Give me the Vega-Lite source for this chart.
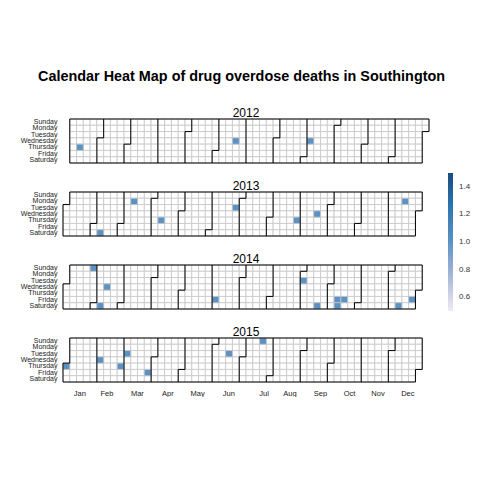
{
"$schema":"https://vega.github.io/schema/vega-lite/v6.json",
"padding":{"left":20,"top":68,"right":0,"bottom":0},
"title":{"text":"Calendar Heat Map of drug overdose deaths in Southington","fontSize":14.4,"fontWeight":"bold","color":"#000000","anchor":"middle","offset":23,"dx":-4},
"datasets":{
"c12":[
{"w":1,"d":0},{"w":1,"d":1},{"w":1,"d":2},{"w":1,"d":3},{"w":1,"d":4},{"w":1,"d":5},{"w":1,"d":6},
{"w":2,"d":0},{"w":2,"d":1},{"w":2,"d":2},{"w":2,"d":3},{"w":2,"d":4},{"w":2,"d":5},{"w":2,"d":6},
{"w":3,"d":0},{"w":3,"d":1},{"w":3,"d":2},{"w":3,"d":3},{"w":3,"d":4},{"w":3,"d":5},{"w":3,"d":6},
{"w":4,"d":0},{"w":4,"d":1},{"w":4,"d":2},{"w":4,"d":3},{"w":4,"d":4},{"w":4,"d":5},{"w":4,"d":6},
{"w":5,"d":0},{"w":5,"d":1},{"w":5,"d":2},{"w":5,"d":3},{"w":5,"d":4},{"w":5,"d":5},{"w":5,"d":6},
{"w":6,"d":0},{"w":6,"d":1},{"w":6,"d":2},{"w":6,"d":3},{"w":6,"d":4},{"w":6,"d":5},{"w":6,"d":6},
{"w":7,"d":0},{"w":7,"d":1},{"w":7,"d":2},{"w":7,"d":3},{"w":7,"d":4},{"w":7,"d":5},{"w":7,"d":6},
{"w":8,"d":0},{"w":8,"d":1},{"w":8,"d":2},{"w":8,"d":3},{"w":8,"d":4},{"w":8,"d":5},{"w":8,"d":6},
{"w":9,"d":0},{"w":9,"d":1},{"w":9,"d":2},{"w":9,"d":3},{"w":9,"d":4},{"w":9,"d":5},{"w":9,"d":6},
{"w":10,"d":0},{"w":10,"d":1},{"w":10,"d":2},{"w":10,"d":3},{"w":10,"d":4},{"w":10,"d":5},{"w":10,"d":6},
{"w":11,"d":0},{"w":11,"d":1},{"w":11,"d":2},{"w":11,"d":3},{"w":11,"d":4},{"w":11,"d":5},{"w":11,"d":6},
{"w":12,"d":0},{"w":12,"d":1},{"w":12,"d":2},{"w":12,"d":3},{"w":12,"d":4},{"w":12,"d":5},{"w":12,"d":6},
{"w":13,"d":0},{"w":13,"d":1},{"w":13,"d":2},{"w":13,"d":3},{"w":13,"d":4},{"w":13,"d":5},{"w":13,"d":6},
{"w":14,"d":0},{"w":14,"d":1},{"w":14,"d":2},{"w":14,"d":3},{"w":14,"d":4},{"w":14,"d":5},{"w":14,"d":6},
{"w":15,"d":0},{"w":15,"d":1},{"w":15,"d":2},{"w":15,"d":3},{"w":15,"d":4},{"w":15,"d":5},{"w":15,"d":6},
{"w":16,"d":0},{"w":16,"d":1},{"w":16,"d":2},{"w":16,"d":3},{"w":16,"d":4},{"w":16,"d":5},{"w":16,"d":6},
{"w":17,"d":0},{"w":17,"d":1},{"w":17,"d":2},{"w":17,"d":3},{"w":17,"d":4},{"w":17,"d":5},{"w":17,"d":6},
{"w":18,"d":0},{"w":18,"d":1},{"w":18,"d":2},{"w":18,"d":3},{"w":18,"d":4},{"w":18,"d":5},{"w":18,"d":6},
{"w":19,"d":0},{"w":19,"d":1},{"w":19,"d":2},{"w":19,"d":3},{"w":19,"d":4},{"w":19,"d":5},{"w":19,"d":6},
{"w":20,"d":0},{"w":20,"d":1},{"w":20,"d":2},{"w":20,"d":3},{"w":20,"d":4},{"w":20,"d":5},{"w":20,"d":6},
{"w":21,"d":0},{"w":21,"d":1},{"w":21,"d":2},{"w":21,"d":3},{"w":21,"d":4},{"w":21,"d":5},{"w":21,"d":6},
{"w":22,"d":0},{"w":22,"d":1},{"w":22,"d":2},{"w":22,"d":3},{"w":22,"d":4},{"w":22,"d":5},{"w":22,"d":6},
{"w":23,"d":0},{"w":23,"d":1},{"w":23,"d":2},{"w":23,"d":3},{"w":23,"d":4},{"w":23,"d":5},{"w":23,"d":6},
{"w":24,"d":0},{"w":24,"d":1},{"w":24,"d":2},{"w":24,"d":3},{"w":24,"d":4},{"w":24,"d":5},{"w":24,"d":6},
{"w":25,"d":0},{"w":25,"d":1},{"w":25,"d":2},{"w":25,"d":3},{"w":25,"d":4},{"w":25,"d":5},{"w":25,"d":6},
{"w":26,"d":0},{"w":26,"d":1},{"w":26,"d":2},{"w":26,"d":3},{"w":26,"d":4},{"w":26,"d":5},{"w":26,"d":6},
{"w":27,"d":0},{"w":27,"d":1},{"w":27,"d":2},{"w":27,"d":3},{"w":27,"d":4},{"w":27,"d":5},{"w":27,"d":6},
{"w":28,"d":0},{"w":28,"d":1},{"w":28,"d":2},{"w":28,"d":3},{"w":28,"d":4},{"w":28,"d":5},{"w":28,"d":6},
{"w":29,"d":0},{"w":29,"d":1},{"w":29,"d":2},{"w":29,"d":3},{"w":29,"d":4},{"w":29,"d":5},{"w":29,"d":6},
{"w":30,"d":0},{"w":30,"d":1},{"w":30,"d":2},{"w":30,"d":3},{"w":30,"d":4},{"w":30,"d":5},{"w":30,"d":6},
{"w":31,"d":0},{"w":31,"d":1},{"w":31,"d":2},{"w":31,"d":3},{"w":31,"d":4},{"w":31,"d":5},{"w":31,"d":6},
{"w":32,"d":0},{"w":32,"d":1},{"w":32,"d":2},{"w":32,"d":3},{"w":32,"d":4},{"w":32,"d":5},{"w":32,"d":6},
{"w":33,"d":0},{"w":33,"d":1},{"w":33,"d":2},{"w":33,"d":3},{"w":33,"d":4},{"w":33,"d":5},{"w":33,"d":6},
{"w":34,"d":0},{"w":34,"d":1},{"w":34,"d":2},{"w":34,"d":3},{"w":34,"d":4},{"w":34,"d":5},{"w":34,"d":6},
{"w":35,"d":0},{"w":35,"d":1},{"w":35,"d":2},{"w":35,"d":3},{"w":35,"d":4},{"w":35,"d":5},{"w":35,"d":6},
{"w":36,"d":0},{"w":36,"d":1},{"w":36,"d":2},{"w":36,"d":3},{"w":36,"d":4},{"w":36,"d":5},{"w":36,"d":6},
{"w":37,"d":0},{"w":37,"d":1},{"w":37,"d":2},{"w":37,"d":3},{"w":37,"d":4},{"w":37,"d":5},{"w":37,"d":6},
{"w":38,"d":0},{"w":38,"d":1},{"w":38,"d":2},{"w":38,"d":3},{"w":38,"d":4},{"w":38,"d":5},{"w":38,"d":6},
{"w":39,"d":0},{"w":39,"d":1},{"w":39,"d":2},{"w":39,"d":3},{"w":39,"d":4},{"w":39,"d":5},{"w":39,"d":6},
{"w":40,"d":0},{"w":40,"d":1},{"w":40,"d":2},{"w":40,"d":3},{"w":40,"d":4},{"w":40,"d":5},{"w":40,"d":6},
{"w":41,"d":0},{"w":41,"d":1},{"w":41,"d":2},{"w":41,"d":3},{"w":41,"d":4},{"w":41,"d":5},{"w":41,"d":6},
{"w":42,"d":0},{"w":42,"d":1},{"w":42,"d":2},{"w":42,"d":3},{"w":42,"d":4},{"w":42,"d":5},{"w":42,"d":6},
{"w":43,"d":0},{"w":43,"d":1},{"w":43,"d":2},{"w":43,"d":3},{"w":43,"d":4},{"w":43,"d":5},{"w":43,"d":6},
{"w":44,"d":0},{"w":44,"d":1},{"w":44,"d":2},{"w":44,"d":3},{"w":44,"d":4},{"w":44,"d":5},{"w":44,"d":6},
{"w":45,"d":0},{"w":45,"d":1},{"w":45,"d":2},{"w":45,"d":3},{"w":45,"d":4},{"w":45,"d":5},{"w":45,"d":6},
{"w":46,"d":0},{"w":46,"d":1},{"w":46,"d":2},{"w":46,"d":3},{"w":46,"d":4},{"w":46,"d":5},{"w":46,"d":6},
{"w":47,"d":0},{"w":47,"d":1},{"w":47,"d":2},{"w":47,"d":3},{"w":47,"d":4},{"w":47,"d":5},{"w":47,"d":6},
{"w":48,"d":0},{"w":48,"d":1},{"w":48,"d":2},{"w":48,"d":3},{"w":48,"d":4},{"w":48,"d":5},{"w":48,"d":6},
{"w":49,"d":0},{"w":49,"d":1},{"w":49,"d":2},{"w":49,"d":3},{"w":49,"d":4},{"w":49,"d":5},{"w":49,"d":6},
{"w":50,"d":0},{"w":50,"d":1},{"w":50,"d":2},{"w":50,"d":3},{"w":50,"d":4},{"w":50,"d":5},{"w":50,"d":6},
{"w":51,"d":0},{"w":51,"d":1},{"w":51,"d":2},{"w":51,"d":3},{"w":51,"d":4},{"w":51,"d":5},{"w":51,"d":6},
{"w":52,"d":0},{"w":52,"d":1},{"w":52,"d":2},{"w":52,"d":3},{"w":52,"d":4},{"w":52,"d":5},{"w":52,"d":6},
{"w":53,"d":0},{"w":53,"d":1}
],
"c13":[
{"w":0,"d":2},{"w":0,"d":3},{"w":0,"d":4},{"w":0,"d":5},{"w":0,"d":6},
{"w":1,"d":0},{"w":1,"d":1},{"w":1,"d":2},{"w":1,"d":3},{"w":1,"d":4},{"w":1,"d":5},{"w":1,"d":6},
{"w":2,"d":0},{"w":2,"d":1},{"w":2,"d":2},{"w":2,"d":3},{"w":2,"d":4},{"w":2,"d":5},{"w":2,"d":6},
{"w":3,"d":0},{"w":3,"d":1},{"w":3,"d":2},{"w":3,"d":3},{"w":3,"d":4},{"w":3,"d":5},{"w":3,"d":6},
{"w":4,"d":0},{"w":4,"d":1},{"w":4,"d":2},{"w":4,"d":3},{"w":4,"d":4},{"w":4,"d":5},{"w":4,"d":6},
{"w":5,"d":0},{"w":5,"d":1},{"w":5,"d":2},{"w":5,"d":3},{"w":5,"d":4},{"w":5,"d":5},{"w":5,"d":6},
{"w":6,"d":0},{"w":6,"d":1},{"w":6,"d":2},{"w":6,"d":3},{"w":6,"d":4},{"w":6,"d":5},{"w":6,"d":6},
{"w":7,"d":0},{"w":7,"d":1},{"w":7,"d":2},{"w":7,"d":3},{"w":7,"d":4},{"w":7,"d":5},{"w":7,"d":6},
{"w":8,"d":0},{"w":8,"d":1},{"w":8,"d":2},{"w":8,"d":3},{"w":8,"d":4},{"w":8,"d":5},{"w":8,"d":6},
{"w":9,"d":0},{"w":9,"d":1},{"w":9,"d":2},{"w":9,"d":3},{"w":9,"d":4},{"w":9,"d":5},{"w":9,"d":6},
{"w":10,"d":0},{"w":10,"d":1},{"w":10,"d":2},{"w":10,"d":3},{"w":10,"d":4},{"w":10,"d":5},{"w":10,"d":6},
{"w":11,"d":0},{"w":11,"d":1},{"w":11,"d":2},{"w":11,"d":3},{"w":11,"d":4},{"w":11,"d":5},{"w":11,"d":6},
{"w":12,"d":0},{"w":12,"d":1},{"w":12,"d":2},{"w":12,"d":3},{"w":12,"d":4},{"w":12,"d":5},{"w":12,"d":6},
{"w":13,"d":0},{"w":13,"d":1},{"w":13,"d":2},{"w":13,"d":3},{"w":13,"d":4},{"w":13,"d":5},{"w":13,"d":6},
{"w":14,"d":0},{"w":14,"d":1},{"w":14,"d":2},{"w":14,"d":3},{"w":14,"d":4},{"w":14,"d":5},{"w":14,"d":6},
{"w":15,"d":0},{"w":15,"d":1},{"w":15,"d":2},{"w":15,"d":3},{"w":15,"d":4},{"w":15,"d":5},{"w":15,"d":6},
{"w":16,"d":0},{"w":16,"d":1},{"w":16,"d":2},{"w":16,"d":3},{"w":16,"d":4},{"w":16,"d":5},{"w":16,"d":6},
{"w":17,"d":0},{"w":17,"d":1},{"w":17,"d":2},{"w":17,"d":3},{"w":17,"d":4},{"w":17,"d":5},{"w":17,"d":6},
{"w":18,"d":0},{"w":18,"d":1},{"w":18,"d":2},{"w":18,"d":3},{"w":18,"d":4},{"w":18,"d":5},{"w":18,"d":6},
{"w":19,"d":0},{"w":19,"d":1},{"w":19,"d":2},{"w":19,"d":3},{"w":19,"d":4},{"w":19,"d":5},{"w":19,"d":6},
{"w":20,"d":0},{"w":20,"d":1},{"w":20,"d":2},{"w":20,"d":3},{"w":20,"d":4},{"w":20,"d":5},{"w":20,"d":6},
{"w":21,"d":0},{"w":21,"d":1},{"w":21,"d":2},{"w":21,"d":3},{"w":21,"d":4},{"w":21,"d":5},{"w":21,"d":6},
{"w":22,"d":0},{"w":22,"d":1},{"w":22,"d":2},{"w":22,"d":3},{"w":22,"d":4},{"w":22,"d":5},{"w":22,"d":6},
{"w":23,"d":0},{"w":23,"d":1},{"w":23,"d":2},{"w":23,"d":3},{"w":23,"d":4},{"w":23,"d":5},{"w":23,"d":6},
{"w":24,"d":0},{"w":24,"d":1},{"w":24,"d":2},{"w":24,"d":3},{"w":24,"d":4},{"w":24,"d":5},{"w":24,"d":6},
{"w":25,"d":0},{"w":25,"d":1},{"w":25,"d":2},{"w":25,"d":3},{"w":25,"d":4},{"w":25,"d":5},{"w":25,"d":6},
{"w":26,"d":0},{"w":26,"d":1},{"w":26,"d":2},{"w":26,"d":3},{"w":26,"d":4},{"w":26,"d":5},{"w":26,"d":6},
{"w":27,"d":0},{"w":27,"d":1},{"w":27,"d":2},{"w":27,"d":3},{"w":27,"d":4},{"w":27,"d":5},{"w":27,"d":6},
{"w":28,"d":0},{"w":28,"d":1},{"w":28,"d":2},{"w":28,"d":3},{"w":28,"d":4},{"w":28,"d":5},{"w":28,"d":6},
{"w":29,"d":0},{"w":29,"d":1},{"w":29,"d":2},{"w":29,"d":3},{"w":29,"d":4},{"w":29,"d":5},{"w":29,"d":6},
{"w":30,"d":0},{"w":30,"d":1},{"w":30,"d":2},{"w":30,"d":3},{"w":30,"d":4},{"w":30,"d":5},{"w":30,"d":6},
{"w":31,"d":0},{"w":31,"d":1},{"w":31,"d":2},{"w":31,"d":3},{"w":31,"d":4},{"w":31,"d":5},{"w":31,"d":6},
{"w":32,"d":0},{"w":32,"d":1},{"w":32,"d":2},{"w":32,"d":3},{"w":32,"d":4},{"w":32,"d":5},{"w":32,"d":6},
{"w":33,"d":0},{"w":33,"d":1},{"w":33,"d":2},{"w":33,"d":3},{"w":33,"d":4},{"w":33,"d":5},{"w":33,"d":6},
{"w":34,"d":0},{"w":34,"d":1},{"w":34,"d":2},{"w":34,"d":3},{"w":34,"d":4},{"w":34,"d":5},{"w":34,"d":6},
{"w":35,"d":0},{"w":35,"d":1},{"w":35,"d":2},{"w":35,"d":3},{"w":35,"d":4},{"w":35,"d":5},{"w":35,"d":6},
{"w":36,"d":0},{"w":36,"d":1},{"w":36,"d":2},{"w":36,"d":3},{"w":36,"d":4},{"w":36,"d":5},{"w":36,"d":6},
{"w":37,"d":0},{"w":37,"d":1},{"w":37,"d":2},{"w":37,"d":3},{"w":37,"d":4},{"w":37,"d":5},{"w":37,"d":6},
{"w":38,"d":0},{"w":38,"d":1},{"w":38,"d":2},{"w":38,"d":3},{"w":38,"d":4},{"w":38,"d":5},{"w":38,"d":6},
{"w":39,"d":0},{"w":39,"d":1},{"w":39,"d":2},{"w":39,"d":3},{"w":39,"d":4},{"w":39,"d":5},{"w":39,"d":6},
{"w":40,"d":0},{"w":40,"d":1},{"w":40,"d":2},{"w":40,"d":3},{"w":40,"d":4},{"w":40,"d":5},{"w":40,"d":6},
{"w":41,"d":0},{"w":41,"d":1},{"w":41,"d":2},{"w":41,"d":3},{"w":41,"d":4},{"w":41,"d":5},{"w":41,"d":6},
{"w":42,"d":0},{"w":42,"d":1},{"w":42,"d":2},{"w":42,"d":3},{"w":42,"d":4},{"w":42,"d":5},{"w":42,"d":6},
{"w":43,"d":0},{"w":43,"d":1},{"w":43,"d":2},{"w":43,"d":3},{"w":43,"d":4},{"w":43,"d":5},{"w":43,"d":6},
{"w":44,"d":0},{"w":44,"d":1},{"w":44,"d":2},{"w":44,"d":3},{"w":44,"d":4},{"w":44,"d":5},{"w":44,"d":6},
{"w":45,"d":0},{"w":45,"d":1},{"w":45,"d":2},{"w":45,"d":3},{"w":45,"d":4},{"w":45,"d":5},{"w":45,"d":6},
{"w":46,"d":0},{"w":46,"d":1},{"w":46,"d":2},{"w":46,"d":3},{"w":46,"d":4},{"w":46,"d":5},{"w":46,"d":6},
{"w":47,"d":0},{"w":47,"d":1},{"w":47,"d":2},{"w":47,"d":3},{"w":47,"d":4},{"w":47,"d":5},{"w":47,"d":6},
{"w":48,"d":0},{"w":48,"d":1},{"w":48,"d":2},{"w":48,"d":3},{"w":48,"d":4},{"w":48,"d":5},{"w":48,"d":6},
{"w":49,"d":0},{"w":49,"d":1},{"w":49,"d":2},{"w":49,"d":3},{"w":49,"d":4},{"w":49,"d":5},{"w":49,"d":6},
{"w":50,"d":0},{"w":50,"d":1},{"w":50,"d":2},{"w":50,"d":3},{"w":50,"d":4},{"w":50,"d":5},{"w":50,"d":6},
{"w":51,"d":0},{"w":51,"d":1},{"w":51,"d":2},{"w":51,"d":3},{"w":51,"d":4},{"w":51,"d":5},{"w":51,"d":6},
{"w":52,"d":0},{"w":52,"d":1},{"w":52,"d":2}
],
"c14":[
{"w":0,"d":3},{"w":0,"d":4},{"w":0,"d":5},{"w":0,"d":6},
{"w":1,"d":0},{"w":1,"d":1},{"w":1,"d":2},{"w":1,"d":3},{"w":1,"d":4},{"w":1,"d":5},{"w":1,"d":6},
{"w":2,"d":0},{"w":2,"d":1},{"w":2,"d":2},{"w":2,"d":3},{"w":2,"d":4},{"w":2,"d":5},{"w":2,"d":6},
{"w":3,"d":0},{"w":3,"d":1},{"w":3,"d":2},{"w":3,"d":3},{"w":3,"d":4},{"w":3,"d":5},{"w":3,"d":6},
{"w":4,"d":0},{"w":4,"d":1},{"w":4,"d":2},{"w":4,"d":3},{"w":4,"d":4},{"w":4,"d":5},{"w":4,"d":6},
{"w":5,"d":0},{"w":5,"d":1},{"w":5,"d":2},{"w":5,"d":3},{"w":5,"d":4},{"w":5,"d":5},{"w":5,"d":6},
{"w":6,"d":0},{"w":6,"d":1},{"w":6,"d":2},{"w":6,"d":3},{"w":6,"d":4},{"w":6,"d":5},{"w":6,"d":6},
{"w":7,"d":0},{"w":7,"d":1},{"w":7,"d":2},{"w":7,"d":3},{"w":7,"d":4},{"w":7,"d":5},{"w":7,"d":6},
{"w":8,"d":0},{"w":8,"d":1},{"w":8,"d":2},{"w":8,"d":3},{"w":8,"d":4},{"w":8,"d":5},{"w":8,"d":6},
{"w":9,"d":0},{"w":9,"d":1},{"w":9,"d":2},{"w":9,"d":3},{"w":9,"d":4},{"w":9,"d":5},{"w":9,"d":6},
{"w":10,"d":0},{"w":10,"d":1},{"w":10,"d":2},{"w":10,"d":3},{"w":10,"d":4},{"w":10,"d":5},{"w":10,"d":6},
{"w":11,"d":0},{"w":11,"d":1},{"w":11,"d":2},{"w":11,"d":3},{"w":11,"d":4},{"w":11,"d":5},{"w":11,"d":6},
{"w":12,"d":0},{"w":12,"d":1},{"w":12,"d":2},{"w":12,"d":3},{"w":12,"d":4},{"w":12,"d":5},{"w":12,"d":6},
{"w":13,"d":0},{"w":13,"d":1},{"w":13,"d":2},{"w":13,"d":3},{"w":13,"d":4},{"w":13,"d":5},{"w":13,"d":6},
{"w":14,"d":0},{"w":14,"d":1},{"w":14,"d":2},{"w":14,"d":3},{"w":14,"d":4},{"w":14,"d":5},{"w":14,"d":6},
{"w":15,"d":0},{"w":15,"d":1},{"w":15,"d":2},{"w":15,"d":3},{"w":15,"d":4},{"w":15,"d":5},{"w":15,"d":6},
{"w":16,"d":0},{"w":16,"d":1},{"w":16,"d":2},{"w":16,"d":3},{"w":16,"d":4},{"w":16,"d":5},{"w":16,"d":6},
{"w":17,"d":0},{"w":17,"d":1},{"w":17,"d":2},{"w":17,"d":3},{"w":17,"d":4},{"w":17,"d":5},{"w":17,"d":6},
{"w":18,"d":0},{"w":18,"d":1},{"w":18,"d":2},{"w":18,"d":3},{"w":18,"d":4},{"w":18,"d":5},{"w":18,"d":6},
{"w":19,"d":0},{"w":19,"d":1},{"w":19,"d":2},{"w":19,"d":3},{"w":19,"d":4},{"w":19,"d":5},{"w":19,"d":6},
{"w":20,"d":0},{"w":20,"d":1},{"w":20,"d":2},{"w":20,"d":3},{"w":20,"d":4},{"w":20,"d":5},{"w":20,"d":6},
{"w":21,"d":0},{"w":21,"d":1},{"w":21,"d":2},{"w":21,"d":3},{"w":21,"d":4},{"w":21,"d":5},{"w":21,"d":6},
{"w":22,"d":0},{"w":22,"d":1},{"w":22,"d":2},{"w":22,"d":3},{"w":22,"d":4},{"w":22,"d":5},{"w":22,"d":6},
{"w":23,"d":0},{"w":23,"d":1},{"w":23,"d":2},{"w":23,"d":3},{"w":23,"d":4},{"w":23,"d":5},{"w":23,"d":6},
{"w":24,"d":0},{"w":24,"d":1},{"w":24,"d":2},{"w":24,"d":3},{"w":24,"d":4},{"w":24,"d":5},{"w":24,"d":6},
{"w":25,"d":0},{"w":25,"d":1},{"w":25,"d":2},{"w":25,"d":3},{"w":25,"d":4},{"w":25,"d":5},{"w":25,"d":6},
{"w":26,"d":0},{"w":26,"d":1},{"w":26,"d":2},{"w":26,"d":3},{"w":26,"d":4},{"w":26,"d":5},{"w":26,"d":6},
{"w":27,"d":0},{"w":27,"d":1},{"w":27,"d":2},{"w":27,"d":3},{"w":27,"d":4},{"w":27,"d":5},{"w":27,"d":6},
{"w":28,"d":0},{"w":28,"d":1},{"w":28,"d":2},{"w":28,"d":3},{"w":28,"d":4},{"w":28,"d":5},{"w":28,"d":6},
{"w":29,"d":0},{"w":29,"d":1},{"w":29,"d":2},{"w":29,"d":3},{"w":29,"d":4},{"w":29,"d":5},{"w":29,"d":6},
{"w":30,"d":0},{"w":30,"d":1},{"w":30,"d":2},{"w":30,"d":3},{"w":30,"d":4},{"w":30,"d":5},{"w":30,"d":6},
{"w":31,"d":0},{"w":31,"d":1},{"w":31,"d":2},{"w":31,"d":3},{"w":31,"d":4},{"w":31,"d":5},{"w":31,"d":6},
{"w":32,"d":0},{"w":32,"d":1},{"w":32,"d":2},{"w":32,"d":3},{"w":32,"d":4},{"w":32,"d":5},{"w":32,"d":6},
{"w":33,"d":0},{"w":33,"d":1},{"w":33,"d":2},{"w":33,"d":3},{"w":33,"d":4},{"w":33,"d":5},{"w":33,"d":6},
{"w":34,"d":0},{"w":34,"d":1},{"w":34,"d":2},{"w":34,"d":3},{"w":34,"d":4},{"w":34,"d":5},{"w":34,"d":6},
{"w":35,"d":0},{"w":35,"d":1},{"w":35,"d":2},{"w":35,"d":3},{"w":35,"d":4},{"w":35,"d":5},{"w":35,"d":6},
{"w":36,"d":0},{"w":36,"d":1},{"w":36,"d":2},{"w":36,"d":3},{"w":36,"d":4},{"w":36,"d":5},{"w":36,"d":6},
{"w":37,"d":0},{"w":37,"d":1},{"w":37,"d":2},{"w":37,"d":3},{"w":37,"d":4},{"w":37,"d":5},{"w":37,"d":6},
{"w":38,"d":0},{"w":38,"d":1},{"w":38,"d":2},{"w":38,"d":3},{"w":38,"d":4},{"w":38,"d":5},{"w":38,"d":6},
{"w":39,"d":0},{"w":39,"d":1},{"w":39,"d":2},{"w":39,"d":3},{"w":39,"d":4},{"w":39,"d":5},{"w":39,"d":6},
{"w":40,"d":0},{"w":40,"d":1},{"w":40,"d":2},{"w":40,"d":3},{"w":40,"d":4},{"w":40,"d":5},{"w":40,"d":6},
{"w":41,"d":0},{"w":41,"d":1},{"w":41,"d":2},{"w":41,"d":3},{"w":41,"d":4},{"w":41,"d":5},{"w":41,"d":6},
{"w":42,"d":0},{"w":42,"d":1},{"w":42,"d":2},{"w":42,"d":3},{"w":42,"d":4},{"w":42,"d":5},{"w":42,"d":6},
{"w":43,"d":0},{"w":43,"d":1},{"w":43,"d":2},{"w":43,"d":3},{"w":43,"d":4},{"w":43,"d":5},{"w":43,"d":6},
{"w":44,"d":0},{"w":44,"d":1},{"w":44,"d":2},{"w":44,"d":3},{"w":44,"d":4},{"w":44,"d":5},{"w":44,"d":6},
{"w":45,"d":0},{"w":45,"d":1},{"w":45,"d":2},{"w":45,"d":3},{"w":45,"d":4},{"w":45,"d":5},{"w":45,"d":6},
{"w":46,"d":0},{"w":46,"d":1},{"w":46,"d":2},{"w":46,"d":3},{"w":46,"d":4},{"w":46,"d":5},{"w":46,"d":6},
{"w":47,"d":0},{"w":47,"d":1},{"w":47,"d":2},{"w":47,"d":3},{"w":47,"d":4},{"w":47,"d":5},{"w":47,"d":6},
{"w":48,"d":0},{"w":48,"d":1},{"w":48,"d":2},{"w":48,"d":3},{"w":48,"d":4},{"w":48,"d":5},{"w":48,"d":6},
{"w":49,"d":0},{"w":49,"d":1},{"w":49,"d":2},{"w":49,"d":3},{"w":49,"d":4},{"w":49,"d":5},{"w":49,"d":6},
{"w":50,"d":0},{"w":50,"d":1},{"w":50,"d":2},{"w":50,"d":3},{"w":50,"d":4},{"w":50,"d":5},{"w":50,"d":6},
{"w":51,"d":0},{"w":51,"d":1},{"w":51,"d":2},{"w":51,"d":3},{"w":51,"d":4},{"w":51,"d":5},{"w":51,"d":6},
{"w":52,"d":0},{"w":52,"d":1},{"w":52,"d":2},{"w":52,"d":3}
],
"c15":[
{"w":0,"d":4},{"w":0,"d":5},{"w":0,"d":6},
{"w":1,"d":0},{"w":1,"d":1},{"w":1,"d":2},{"w":1,"d":3},{"w":1,"d":4},{"w":1,"d":5},{"w":1,"d":6},
{"w":2,"d":0},{"w":2,"d":1},{"w":2,"d":2},{"w":2,"d":3},{"w":2,"d":4},{"w":2,"d":5},{"w":2,"d":6},
{"w":3,"d":0},{"w":3,"d":1},{"w":3,"d":2},{"w":3,"d":3},{"w":3,"d":4},{"w":3,"d":5},{"w":3,"d":6},
{"w":4,"d":0},{"w":4,"d":1},{"w":4,"d":2},{"w":4,"d":3},{"w":4,"d":4},{"w":4,"d":5},{"w":4,"d":6},
{"w":5,"d":0},{"w":5,"d":1},{"w":5,"d":2},{"w":5,"d":3},{"w":5,"d":4},{"w":5,"d":5},{"w":5,"d":6},
{"w":6,"d":0},{"w":6,"d":1},{"w":6,"d":2},{"w":6,"d":3},{"w":6,"d":4},{"w":6,"d":5},{"w":6,"d":6},
{"w":7,"d":0},{"w":7,"d":1},{"w":7,"d":2},{"w":7,"d":3},{"w":7,"d":4},{"w":7,"d":5},{"w":7,"d":6},
{"w":8,"d":0},{"w":8,"d":1},{"w":8,"d":2},{"w":8,"d":3},{"w":8,"d":4},{"w":8,"d":5},{"w":8,"d":6},
{"w":9,"d":0},{"w":9,"d":1},{"w":9,"d":2},{"w":9,"d":3},{"w":9,"d":4},{"w":9,"d":5},{"w":9,"d":6},
{"w":10,"d":0},{"w":10,"d":1},{"w":10,"d":2},{"w":10,"d":3},{"w":10,"d":4},{"w":10,"d":5},{"w":10,"d":6},
{"w":11,"d":0},{"w":11,"d":1},{"w":11,"d":2},{"w":11,"d":3},{"w":11,"d":4},{"w":11,"d":5},{"w":11,"d":6},
{"w":12,"d":0},{"w":12,"d":1},{"w":12,"d":2},{"w":12,"d":3},{"w":12,"d":4},{"w":12,"d":5},{"w":12,"d":6},
{"w":13,"d":0},{"w":13,"d":1},{"w":13,"d":2},{"w":13,"d":3},{"w":13,"d":4},{"w":13,"d":5},{"w":13,"d":6},
{"w":14,"d":0},{"w":14,"d":1},{"w":14,"d":2},{"w":14,"d":3},{"w":14,"d":4},{"w":14,"d":5},{"w":14,"d":6},
{"w":15,"d":0},{"w":15,"d":1},{"w":15,"d":2},{"w":15,"d":3},{"w":15,"d":4},{"w":15,"d":5},{"w":15,"d":6},
{"w":16,"d":0},{"w":16,"d":1},{"w":16,"d":2},{"w":16,"d":3},{"w":16,"d":4},{"w":16,"d":5},{"w":16,"d":6},
{"w":17,"d":0},{"w":17,"d":1},{"w":17,"d":2},{"w":17,"d":3},{"w":17,"d":4},{"w":17,"d":5},{"w":17,"d":6},
{"w":18,"d":0},{"w":18,"d":1},{"w":18,"d":2},{"w":18,"d":3},{"w":18,"d":4},{"w":18,"d":5},{"w":18,"d":6},
{"w":19,"d":0},{"w":19,"d":1},{"w":19,"d":2},{"w":19,"d":3},{"w":19,"d":4},{"w":19,"d":5},{"w":19,"d":6},
{"w":20,"d":0},{"w":20,"d":1},{"w":20,"d":2},{"w":20,"d":3},{"w":20,"d":4},{"w":20,"d":5},{"w":20,"d":6},
{"w":21,"d":0},{"w":21,"d":1},{"w":21,"d":2},{"w":21,"d":3},{"w":21,"d":4},{"w":21,"d":5},{"w":21,"d":6},
{"w":22,"d":0},{"w":22,"d":1},{"w":22,"d":2},{"w":22,"d":3},{"w":22,"d":4},{"w":22,"d":5},{"w":22,"d":6},
{"w":23,"d":0},{"w":23,"d":1},{"w":23,"d":2},{"w":23,"d":3},{"w":23,"d":4},{"w":23,"d":5},{"w":23,"d":6},
{"w":24,"d":0},{"w":24,"d":1},{"w":24,"d":2},{"w":24,"d":3},{"w":24,"d":4},{"w":24,"d":5},{"w":24,"d":6},
{"w":25,"d":0},{"w":25,"d":1},{"w":25,"d":2},{"w":25,"d":3},{"w":25,"d":4},{"w":25,"d":5},{"w":25,"d":6},
{"w":26,"d":0},{"w":26,"d":1},{"w":26,"d":2},{"w":26,"d":3},{"w":26,"d":4},{"w":26,"d":5},{"w":26,"d":6},
{"w":27,"d":0},{"w":27,"d":1},{"w":27,"d":2},{"w":27,"d":3},{"w":27,"d":4},{"w":27,"d":5},{"w":27,"d":6},
{"w":28,"d":0},{"w":28,"d":1},{"w":28,"d":2},{"w":28,"d":3},{"w":28,"d":4},{"w":28,"d":5},{"w":28,"d":6},
{"w":29,"d":0},{"w":29,"d":1},{"w":29,"d":2},{"w":29,"d":3},{"w":29,"d":4},{"w":29,"d":5},{"w":29,"d":6},
{"w":30,"d":0},{"w":30,"d":1},{"w":30,"d":2},{"w":30,"d":3},{"w":30,"d":4},{"w":30,"d":5},{"w":30,"d":6},
{"w":31,"d":0},{"w":31,"d":1},{"w":31,"d":2},{"w":31,"d":3},{"w":31,"d":4},{"w":31,"d":5},{"w":31,"d":6},
{"w":32,"d":0},{"w":32,"d":1},{"w":32,"d":2},{"w":32,"d":3},{"w":32,"d":4},{"w":32,"d":5},{"w":32,"d":6},
{"w":33,"d":0},{"w":33,"d":1},{"w":33,"d":2},{"w":33,"d":3},{"w":33,"d":4},{"w":33,"d":5},{"w":33,"d":6},
{"w":34,"d":0},{"w":34,"d":1},{"w":34,"d":2},{"w":34,"d":3},{"w":34,"d":4},{"w":34,"d":5},{"w":34,"d":6},
{"w":35,"d":0},{"w":35,"d":1},{"w":35,"d":2},{"w":35,"d":3},{"w":35,"d":4},{"w":35,"d":5},{"w":35,"d":6},
{"w":36,"d":0},{"w":36,"d":1},{"w":36,"d":2},{"w":36,"d":3},{"w":36,"d":4},{"w":36,"d":5},{"w":36,"d":6},
{"w":37,"d":0},{"w":37,"d":1},{"w":37,"d":2},{"w":37,"d":3},{"w":37,"d":4},{"w":37,"d":5},{"w":37,"d":6},
{"w":38,"d":0},{"w":38,"d":1},{"w":38,"d":2},{"w":38,"d":3},{"w":38,"d":4},{"w":38,"d":5},{"w":38,"d":6},
{"w":39,"d":0},{"w":39,"d":1},{"w":39,"d":2},{"w":39,"d":3},{"w":39,"d":4},{"w":39,"d":5},{"w":39,"d":6},
{"w":40,"d":0},{"w":40,"d":1},{"w":40,"d":2},{"w":40,"d":3},{"w":40,"d":4},{"w":40,"d":5},{"w":40,"d":6},
{"w":41,"d":0},{"w":41,"d":1},{"w":41,"d":2},{"w":41,"d":3},{"w":41,"d":4},{"w":41,"d":5},{"w":41,"d":6},
{"w":42,"d":0},{"w":42,"d":1},{"w":42,"d":2},{"w":42,"d":3},{"w":42,"d":4},{"w":42,"d":5},{"w":42,"d":6},
{"w":43,"d":0},{"w":43,"d":1},{"w":43,"d":2},{"w":43,"d":3},{"w":43,"d":4},{"w":43,"d":5},{"w":43,"d":6},
{"w":44,"d":0},{"w":44,"d":1},{"w":44,"d":2},{"w":44,"d":3},{"w":44,"d":4},{"w":44,"d":5},{"w":44,"d":6},
{"w":45,"d":0},{"w":45,"d":1},{"w":45,"d":2},{"w":45,"d":3},{"w":45,"d":4},{"w":45,"d":5},{"w":45,"d":6},
{"w":46,"d":0},{"w":46,"d":1},{"w":46,"d":2},{"w":46,"d":3},{"w":46,"d":4},{"w":46,"d":5},{"w":46,"d":6},
{"w":47,"d":0},{"w":47,"d":1},{"w":47,"d":2},{"w":47,"d":3},{"w":47,"d":4},{"w":47,"d":5},{"w":47,"d":6},
{"w":48,"d":0},{"w":48,"d":1},{"w":48,"d":2},{"w":48,"d":3},{"w":48,"d":4},{"w":48,"d":5},{"w":48,"d":6},
{"w":49,"d":0},{"w":49,"d":1},{"w":49,"d":2},{"w":49,"d":3},{"w":49,"d":4},{"w":49,"d":5},{"w":49,"d":6},
{"w":50,"d":0},{"w":50,"d":1},{"w":50,"d":2},{"w":50,"d":3},{"w":50,"d":4},{"w":50,"d":5},{"w":50,"d":6},
{"w":51,"d":0},{"w":51,"d":1},{"w":51,"d":2},{"w":51,"d":3},{"w":51,"d":4},{"w":51,"d":5},{"w":51,"d":6},
{"w":52,"d":0},{"w":52,"d":1},{"w":52,"d":2},{"w":52,"d":3},{"w":52,"d":4}
],
"d12":[{"w":2,"d":4,"n":1},{"w":25,"d":3,"n":1},{"w":36,"d":3,"n":1}],
"d13":[{"w":5,"d":6,"n":1},{"w":10,"d":1,"n":1},{"w":14,"d":4,"n":1},{"w":25,"d":2,"n":1},{"w":34,"d":4,"n":1},{"w":37,"d":3,"n":1},{"w":50,"d":1,"n":1}],
"d14":[{"w":4,"d":0,"n":1},{"w":5,"d":6,"n":1},{"w":6,"d":3,"n":1},{"w":22,"d":5,"n":1},{"w":35,"d":2,"n":1},{"w":37,"d":6,"n":1},{"w":40,"d":5,"n":1},{"w":40,"d":6,"n":1},{"w":41,"d":5,"n":1},{"w":49,"d":6,"n":1},{"w":51,"d":5,"n":1}],
"d15":[{"w":0,"d":4,"n":1},{"w":5,"d":3,"n":1},{"w":8,"d":4,"n":1},{"w":9,"d":2,"n":1},{"w":12,"d":5,"n":1},{"w":24,"d":2,"n":1},{"w":29,"d":0,"n":1}],
"b12":[
{"g":1,"o":0,"x":1,"e":0},{"g":1,"o":1,"x":1,"e":7},
{"g":2,"o":0,"x":6,"e":0},{"g":2,"o":1,"x":6,"e":3},{"g":2,"o":2,"x":5,"e":3},{"g":2,"o":3,"x":5,"e":7},
{"g":3,"o":0,"x":10,"e":0},{"g":3,"o":1,"x":10,"e":4},{"g":3,"o":2,"x":9,"e":4},{"g":3,"o":3,"x":9,"e":7},
{"g":4,"o":0,"x":14,"e":0},{"g":4,"o":1,"x":14,"e":7},
{"g":5,"o":0,"x":19,"e":0},{"g":5,"o":1,"x":19,"e":2},{"g":5,"o":2,"x":18,"e":2},{"g":5,"o":3,"x":18,"e":7},
{"g":6,"o":0,"x":23,"e":0},{"g":6,"o":1,"x":23,"e":5},{"g":6,"o":2,"x":22,"e":5},{"g":6,"o":3,"x":22,"e":7},
{"g":7,"o":0,"x":27,"e":0},{"g":7,"o":1,"x":27,"e":7},
{"g":8,"o":0,"x":32,"e":0},{"g":8,"o":1,"x":32,"e":3},{"g":8,"o":2,"x":31,"e":3},{"g":8,"o":3,"x":31,"e":7},
{"g":9,"o":0,"x":36,"e":0},{"g":9,"o":1,"x":36,"e":6},{"g":9,"o":2,"x":35,"e":6},{"g":9,"o":3,"x":35,"e":7},
{"g":10,"o":0,"x":41,"e":0},{"g":10,"o":1,"x":41,"e":1},{"g":10,"o":2,"x":40,"e":1},{"g":10,"o":3,"x":40,"e":7},
{"g":11,"o":0,"x":45,"e":0},{"g":11,"o":1,"x":45,"e":4},{"g":11,"o":2,"x":44,"e":4},{"g":11,"o":3,"x":44,"e":7},
{"g":12,"o":0,"x":49,"e":0},{"g":12,"o":1,"x":49,"e":6},{"g":12,"o":2,"x":48,"e":6},{"g":12,"o":3,"x":48,"e":7},
{"g":13,"o":0,"x":54,"e":0},{"g":13,"o":1,"x":54,"e":2},{"g":13,"o":2,"x":53,"e":2},{"g":13,"o":3,"x":53,"e":7},
{"g":14,"o":0,"x":1,"e":0},{"g":14,"o":1,"x":54,"e":0},
{"g":15,"o":0,"x":1,"e":7},{"g":15,"o":1,"x":53,"e":7}
],
"b13":[
{"g":1,"o":0,"x":1,"e":0},{"g":1,"o":1,"x":1,"e":2},{"g":1,"o":2,"x":0,"e":2},{"g":1,"o":3,"x":0,"e":7},
{"g":2,"o":0,"x":5,"e":0},{"g":2,"o":1,"x":5,"e":5},{"g":2,"o":2,"x":4,"e":5},{"g":2,"o":3,"x":4,"e":7},
{"g":3,"o":0,"x":9,"e":0},{"g":3,"o":1,"x":9,"e":5},{"g":3,"o":2,"x":8,"e":5},{"g":3,"o":3,"x":8,"e":7},
{"g":4,"o":0,"x":14,"e":0},{"g":4,"o":1,"x":14,"e":1},{"g":4,"o":2,"x":13,"e":1},{"g":4,"o":3,"x":13,"e":7},
{"g":5,"o":0,"x":18,"e":0},{"g":5,"o":1,"x":18,"e":3},{"g":5,"o":2,"x":17,"e":3},{"g":5,"o":3,"x":17,"e":7},
{"g":6,"o":0,"x":22,"e":0},{"g":6,"o":1,"x":22,"e":6},{"g":6,"o":2,"x":21,"e":6},{"g":6,"o":3,"x":21,"e":7},
{"g":7,"o":0,"x":27,"e":0},{"g":7,"o":1,"x":27,"e":1},{"g":7,"o":2,"x":26,"e":1},{"g":7,"o":3,"x":26,"e":7},
{"g":8,"o":0,"x":31,"e":0},{"g":8,"o":1,"x":31,"e":4},{"g":8,"o":2,"x":30,"e":4},{"g":8,"o":3,"x":30,"e":7},
{"g":9,"o":0,"x":35,"e":0},{"g":9,"o":1,"x":35,"e":7},
{"g":10,"o":0,"x":40,"e":0},{"g":10,"o":1,"x":40,"e":2},{"g":10,"o":2,"x":39,"e":2},{"g":10,"o":3,"x":39,"e":7},
{"g":11,"o":0,"x":44,"e":0},{"g":11,"o":1,"x":44,"e":5},{"g":11,"o":2,"x":43,"e":5},{"g":11,"o":3,"x":43,"e":7},
{"g":12,"o":0,"x":48,"e":0},{"g":12,"o":1,"x":48,"e":7},
{"g":13,"o":0,"x":53,"e":0},{"g":13,"o":1,"x":53,"e":3},{"g":13,"o":2,"x":52,"e":3},{"g":13,"o":3,"x":52,"e":7},
{"g":14,"o":0,"x":1,"e":0},{"g":14,"o":1,"x":53,"e":0},
{"g":15,"o":0,"x":0,"e":7},{"g":15,"o":1,"x":52,"e":7}
],
"b14":[
{"g":1,"o":0,"x":1,"e":0},{"g":1,"o":1,"x":1,"e":3},{"g":1,"o":2,"x":0,"e":3},{"g":1,"o":3,"x":0,"e":7},
{"g":2,"o":0,"x":5,"e":0},{"g":2,"o":1,"x":5,"e":6},{"g":2,"o":2,"x":4,"e":6},{"g":2,"o":3,"x":4,"e":7},
{"g":3,"o":0,"x":9,"e":0},{"g":3,"o":1,"x":9,"e":6},{"g":3,"o":2,"x":8,"e":6},{"g":3,"o":3,"x":8,"e":7},
{"g":4,"o":0,"x":14,"e":0},{"g":4,"o":1,"x":14,"e":2},{"g":4,"o":2,"x":13,"e":2},{"g":4,"o":3,"x":13,"e":7},
{"g":5,"o":0,"x":18,"e":0},{"g":5,"o":1,"x":18,"e":4},{"g":5,"o":2,"x":17,"e":4},{"g":5,"o":3,"x":17,"e":7},
{"g":6,"o":0,"x":22,"e":0},{"g":6,"o":1,"x":22,"e":7},
{"g":7,"o":0,"x":27,"e":0},{"g":7,"o":1,"x":27,"e":2},{"g":7,"o":2,"x":26,"e":2},{"g":7,"o":3,"x":26,"e":7},
{"g":8,"o":0,"x":31,"e":0},{"g":8,"o":1,"x":31,"e":5},{"g":8,"o":2,"x":30,"e":5},{"g":8,"o":3,"x":30,"e":7},
{"g":9,"o":0,"x":36,"e":0},{"g":9,"o":1,"x":36,"e":1},{"g":9,"o":2,"x":35,"e":1},{"g":9,"o":3,"x":35,"e":7},
{"g":10,"o":0,"x":40,"e":0},{"g":10,"o":1,"x":40,"e":3},{"g":10,"o":2,"x":39,"e":3},{"g":10,"o":3,"x":39,"e":7},
{"g":11,"o":0,"x":44,"e":0},{"g":11,"o":1,"x":44,"e":6},{"g":11,"o":2,"x":43,"e":6},{"g":11,"o":3,"x":43,"e":7},
{"g":12,"o":0,"x":49,"e":0},{"g":12,"o":1,"x":49,"e":1},{"g":12,"o":2,"x":48,"e":1},{"g":12,"o":3,"x":48,"e":7},
{"g":13,"o":0,"x":53,"e":0},{"g":13,"o":1,"x":53,"e":4},{"g":13,"o":2,"x":52,"e":4},{"g":13,"o":3,"x":52,"e":7},
{"g":14,"o":0,"x":1,"e":0},{"g":14,"o":1,"x":53,"e":0},
{"g":15,"o":0,"x":0,"e":7},{"g":15,"o":1,"x":52,"e":7}
],
"b15":[
{"g":1,"o":0,"x":1,"e":0},{"g":1,"o":1,"x":1,"e":4},{"g":1,"o":2,"x":0,"e":4},{"g":1,"o":3,"x":0,"e":7},
{"g":2,"o":0,"x":5,"e":0},{"g":2,"o":1,"x":5,"e":7},
{"g":3,"o":0,"x":9,"e":0},{"g":3,"o":1,"x":9,"e":7},
{"g":4,"o":0,"x":14,"e":0},{"g":4,"o":1,"x":14,"e":3},{"g":4,"o":2,"x":13,"e":3},{"g":4,"o":3,"x":13,"e":7},
{"g":5,"o":0,"x":18,"e":0},{"g":5,"o":1,"x":18,"e":5},{"g":5,"o":2,"x":17,"e":5},{"g":5,"o":3,"x":17,"e":7},
{"g":6,"o":0,"x":23,"e":0},{"g":6,"o":1,"x":23,"e":1},{"g":6,"o":2,"x":22,"e":1},{"g":6,"o":3,"x":22,"e":7},
{"g":7,"o":0,"x":27,"e":0},{"g":7,"o":1,"x":27,"e":3},{"g":7,"o":2,"x":26,"e":3},{"g":7,"o":3,"x":26,"e":7},
{"g":8,"o":0,"x":31,"e":0},{"g":8,"o":1,"x":31,"e":6},{"g":8,"o":2,"x":30,"e":6},{"g":8,"o":3,"x":30,"e":7},
{"g":9,"o":0,"x":36,"e":0},{"g":9,"o":1,"x":36,"e":2},{"g":9,"o":2,"x":35,"e":2},{"g":9,"o":3,"x":35,"e":7},
{"g":10,"o":0,"x":40,"e":0},{"g":10,"o":1,"x":40,"e":4},{"g":10,"o":2,"x":39,"e":4},{"g":10,"o":3,"x":39,"e":7},
{"g":11,"o":0,"x":44,"e":0},{"g":11,"o":1,"x":44,"e":7},
{"g":12,"o":0,"x":49,"e":0},{"g":12,"o":1,"x":49,"e":2},{"g":12,"o":2,"x":48,"e":2},{"g":12,"o":3,"x":48,"e":7},
{"g":13,"o":0,"x":53,"e":0},{"g":13,"o":1,"x":53,"e":5},{"g":13,"o":2,"x":52,"e":5},{"g":13,"o":3,"x":52,"e":7},
{"g":14,"o":0,"x":1,"e":0},{"g":14,"o":1,"x":53,"e":0},
{"g":15,"o":0,"x":0,"e":7},{"g":15,"o":1,"x":52,"e":7}
]
},
"vconcat":[
{"title":{"text":"2012"},"width":366,"height":44,
"layer":[
{"data":{"name":"c12"},"mark":{"type":"rect","fill":"#ffffff","stroke":"#c6c6c6","strokeWidth":0.8},
"encoding":{"x":{"field":"w","type":"ordinal","scale":{"domain":[0,1,2,3,4,5,6,7,8,9,10,11,12,13,14,15,16,17,18,19,20,21,22,23,24,25,26,27,28,29,30,31,32,33,34,35,36,37,38,39,40,41,42,43,44,45,46,47,48,49,50,51,52,53]},"axis":null},
"y":{"field":"d","type":"ordinal","scale":{"domain":[0,1,2,3,4,5,6]},"axis":{"labelExpr":"['Sunday','Monday','Tuesday','Wednesday','Thursday','Friday','Saturday'][datum.value]","ticks":false,"domain":false,"grid":false,"title":null,"labelFontSize":7,"labelPadding":6,"labelColor":"#1a1a1a","labelOverlap":false}}}},
{"data":{"name":"d12"},"mark":{"type":"rect","stroke":"#c6c6c6","strokeWidth":0.8},
"encoding":{"x":{"field":"w","type":"ordinal","scale":{"domain":[0,1,2,3,4,5,6,7,8,9,10,11,12,13,14,15,16,17,18,19,20,21,22,23,24,25,26,27,28,29,30,31,32,33,34,35,36,37,38,39,40,41,42,43,44,45,46,47,48,49,50,51,52,53]},"axis":null},
"y":{"field":"d","type":"ordinal","scale":{"domain":[0,1,2,3,4,5,6]},"axis":null},
"color":{"field":"n","type":"quantitative","scale":{"domain":[0.5,0.75,1,1.25,1.5],"range":["#ecebf4","#a6b8d8","#5b92c5","#2b77b2","#1a4b80"]},"legend":{"title":null,"orient":"none","legendX":385,"legendY":54,"direction":"vertical","gradientLength":138,"gradientThickness":5,"gradientStrokeWidth":0,"values":[0.6,0.8,1,1.2,1.4],"format":".1f","labelFontSize":8,"labelColor":"#333333","labelOffset":6}}}},
{"data":{"name":"b12"},"mark":{"type":"line","color":"#000000","strokeWidth":1},
"encoding":{"x":{"field":"x","type":"quantitative","scale":{"domain":[0,54],"nice":false,"zero":false},"axis":null},
"y":{"field":"e","type":"quantitative","scale":{"domain":[0,7],"nice":false,"zero":false,"reverse":true},"axis":null},
"detail":{"field":"g","type":"nominal"},"order":{"field":"o","type":"quantitative"}}}
],
"resolve":{"scale":{"x":"independent","y":"independent"}}},
{"title":{"text":"2013"},"width":366,"height":44,
"layer":[
{"data":{"name":"c13"},"mark":{"type":"rect","fill":"#ffffff","stroke":"#c6c6c6","strokeWidth":0.8},
"encoding":{"x":{"field":"w","type":"ordinal","scale":{"domain":[0,1,2,3,4,5,6,7,8,9,10,11,12,13,14,15,16,17,18,19,20,21,22,23,24,25,26,27,28,29,30,31,32,33,34,35,36,37,38,39,40,41,42,43,44,45,46,47,48,49,50,51,52,53]},"axis":null},
"y":{"field":"d","type":"ordinal","scale":{"domain":[0,1,2,3,4,5,6]},"axis":{"labelExpr":"['Sunday','Monday','Tuesday','Wednesday','Thursday','Friday','Saturday'][datum.value]","ticks":false,"domain":false,"grid":false,"title":null,"labelFontSize":7,"labelPadding":6,"labelColor":"#1a1a1a","labelOverlap":false}}}},
{"data":{"name":"d13"},"mark":{"type":"rect","stroke":"#c6c6c6","strokeWidth":0.8},
"encoding":{"x":{"field":"w","type":"ordinal","scale":{"domain":[0,1,2,3,4,5,6,7,8,9,10,11,12,13,14,15,16,17,18,19,20,21,22,23,24,25,26,27,28,29,30,31,32,33,34,35,36,37,38,39,40,41,42,43,44,45,46,47,48,49,50,51,52,53]},"axis":null},
"y":{"field":"d","type":"ordinal","scale":{"domain":[0,1,2,3,4,5,6]},"axis":null},
"color":{"field":"n","type":"quantitative","scale":{"domain":[0.5,0.75,1,1.25,1.5],"range":["#ecebf4","#a6b8d8","#5b92c5","#2b77b2","#1a4b80"]},"legend":{"title":null,"orient":"none","legendX":385,"legendY":54,"direction":"vertical","gradientLength":138,"gradientThickness":5,"gradientStrokeWidth":0,"values":[0.6,0.8,1,1.2,1.4],"format":".1f","labelFontSize":8,"labelColor":"#333333","labelOffset":6}}}},
{"data":{"name":"b13"},"mark":{"type":"line","color":"#000000","strokeWidth":1},
"encoding":{"x":{"field":"x","type":"quantitative","scale":{"domain":[0,54],"nice":false,"zero":false},"axis":null},
"y":{"field":"e","type":"quantitative","scale":{"domain":[0,7],"nice":false,"zero":false,"reverse":true},"axis":null},
"detail":{"field":"g","type":"nominal"},"order":{"field":"o","type":"quantitative"}}}
],
"resolve":{"scale":{"x":"independent","y":"independent"}}},
{"title":{"text":"2014"},"width":366,"height":44,
"layer":[
{"data":{"name":"c14"},"mark":{"type":"rect","fill":"#ffffff","stroke":"#c6c6c6","strokeWidth":0.8},
"encoding":{"x":{"field":"w","type":"ordinal","scale":{"domain":[0,1,2,3,4,5,6,7,8,9,10,11,12,13,14,15,16,17,18,19,20,21,22,23,24,25,26,27,28,29,30,31,32,33,34,35,36,37,38,39,40,41,42,43,44,45,46,47,48,49,50,51,52,53]},"axis":null},
"y":{"field":"d","type":"ordinal","scale":{"domain":[0,1,2,3,4,5,6]},"axis":{"labelExpr":"['Sunday','Monday','Tuesday','Wednesday','Thursday','Friday','Saturday'][datum.value]","ticks":false,"domain":false,"grid":false,"title":null,"labelFontSize":7,"labelPadding":6,"labelColor":"#1a1a1a","labelOverlap":false}}}},
{"data":{"name":"d14"},"mark":{"type":"rect","stroke":"#c6c6c6","strokeWidth":0.8},
"encoding":{"x":{"field":"w","type":"ordinal","scale":{"domain":[0,1,2,3,4,5,6,7,8,9,10,11,12,13,14,15,16,17,18,19,20,21,22,23,24,25,26,27,28,29,30,31,32,33,34,35,36,37,38,39,40,41,42,43,44,45,46,47,48,49,50,51,52,53]},"axis":null},
"y":{"field":"d","type":"ordinal","scale":{"domain":[0,1,2,3,4,5,6]},"axis":null},
"color":{"field":"n","type":"quantitative","scale":{"domain":[0.5,0.75,1,1.25,1.5],"range":["#ecebf4","#a6b8d8","#5b92c5","#2b77b2","#1a4b80"]},"legend":{"title":null,"orient":"none","legendX":385,"legendY":54,"direction":"vertical","gradientLength":138,"gradientThickness":5,"gradientStrokeWidth":0,"values":[0.6,0.8,1,1.2,1.4],"format":".1f","labelFontSize":8,"labelColor":"#333333","labelOffset":6}}}},
{"data":{"name":"b14"},"mark":{"type":"line","color":"#000000","strokeWidth":1},
"encoding":{"x":{"field":"x","type":"quantitative","scale":{"domain":[0,54],"nice":false,"zero":false},"axis":null},
"y":{"field":"e","type":"quantitative","scale":{"domain":[0,7],"nice":false,"zero":false,"reverse":true},"axis":null},
"detail":{"field":"g","type":"nominal"},"order":{"field":"o","type":"quantitative"}}}
],
"resolve":{"scale":{"x":"independent","y":"independent"}}},
{"title":{"text":"2015"},"width":366,"height":44,
"layer":[
{"data":{"name":"c15"},"mark":{"type":"rect","fill":"#ffffff","stroke":"#c6c6c6","strokeWidth":0.8},
"encoding":{"x":{"field":"w","type":"ordinal","scale":{"domain":[0,1,2,3,4,5,6,7,8,9,10,11,12,13,14,15,16,17,18,19,20,21,22,23,24,25,26,27,28,29,30,31,32,33,34,35,36,37,38,39,40,41,42,43,44,45,46,47,48,49,50,51,52,53]},"axis":null},
"y":{"field":"d","type":"ordinal","scale":{"domain":[0,1,2,3,4,5,6]},"axis":{"labelExpr":"['Sunday','Monday','Tuesday','Wednesday','Thursday','Friday','Saturday'][datum.value]","ticks":false,"domain":false,"grid":false,"title":null,"labelFontSize":7,"labelPadding":6,"labelColor":"#1a1a1a","labelOverlap":false}}}},
{"data":{"name":"d15"},"mark":{"type":"rect","stroke":"#c6c6c6","strokeWidth":0.8},
"encoding":{"x":{"field":"w","type":"ordinal","scale":{"domain":[0,1,2,3,4,5,6,7,8,9,10,11,12,13,14,15,16,17,18,19,20,21,22,23,24,25,26,27,28,29,30,31,32,33,34,35,36,37,38,39,40,41,42,43,44,45,46,47,48,49,50,51,52,53]},"axis":null},
"y":{"field":"d","type":"ordinal","scale":{"domain":[0,1,2,3,4,5,6]},"axis":null},
"color":{"field":"n","type":"quantitative","scale":{"domain":[0.5,0.75,1,1.25,1.5],"range":["#ecebf4","#a6b8d8","#5b92c5","#2b77b2","#1a4b80"]},"legend":{"title":null,"orient":"none","legendX":385,"legendY":54,"direction":"vertical","gradientLength":138,"gradientThickness":5,"gradientStrokeWidth":0,"values":[0.6,0.8,1,1.2,1.4],"format":".1f","labelFontSize":8,"labelColor":"#333333","labelOffset":6}}}},
{"data":{"name":"b15"},"mark":{"type":"line","color":"#000000","strokeWidth":1},
"encoding":{"x":{"field":"x","type":"quantitative","scale":{"domain":[0,54],"nice":false,"zero":false},"axis":{"values":[2.4,6.4,10.9,15.4,19.8,24.4,29.6,33.4,37.9,42.2,46.4,50.8],"labelExpr":"['Jan','Feb','Mar','Apr','May','Jun','Jul','Aug','Sep','Oct','Nov','Dec'][indexof([2.4,6.4,10.9,15.4,19.8,24.4,29.6,33.4,37.9,42.2,46.4,50.8],datum.value)]","ticks":false,"domain":false,"grid":false,"title":null,"labelFontSize":7.5,"labelPadding":7,"labelColor":"#1a1a1a","labelOverlap":false,"labelFlush":false,"orient":"bottom"}},
"y":{"field":"e","type":"quantitative","scale":{"domain":[0,7],"nice":false,"zero":false,"reverse":true},"axis":null},
"detail":{"field":"g","type":"nominal"},"order":{"field":"o","type":"quantitative"}}}
],
"resolve":{"scale":{"x":"independent","y":"independent"}}}
],
"spacing":15,
"config":{"view":{"stroke":null},"font":"Liberation Sans","scale":{"bandPaddingInner":0,"bandPaddingOuter":0},"title":{"fontSize":12,"fontWeight":"normal","color":"#000000","offset":-3,"anchor":"middle"}}
}
